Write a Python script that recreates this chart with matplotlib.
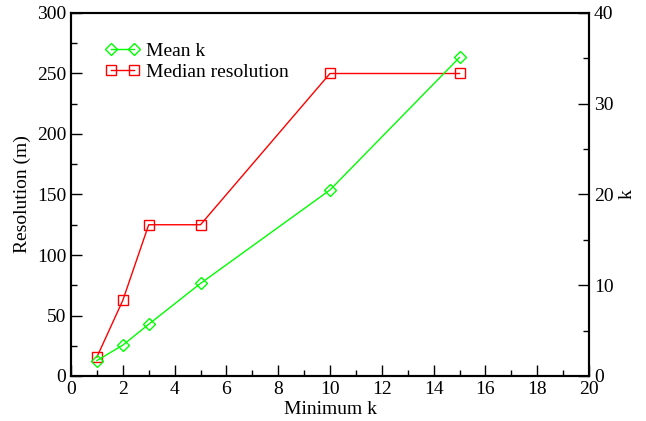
import numpy as np
import matplotlib.pyplot as plt
from matplotlib.ticker import MultipleLocator
from matplotlib.lines import Line2D

plt.rcParams['font.family'] = ['Liberation Serif', 'DejaVu Serif']

min_k = [1, 2, 3, 5, 10, 15]
mean_k = [1.7, 3.4, 5.7, 10.2, 20.5, 35.1]
median_res = [15.625, 62.5, 125, 125, 250, 250]

fig = plt.figure(figsize=(6.46, 4.21), dpi=100)
ax = fig.add_axes([71 / 646, 1 - 376 / 421, 518 / 646, 363 / 421])
ax2 = ax.twinx()

ax.plot(min_k, median_res, color='#ff0000', lw=1.0, marker='s', ms=7,
        mfc='none', mec='#ff0000', mew=1.0)
ax2.plot(min_k, mean_k, color='#00ff00', lw=1.0, marker='D', ms=6,
         mfc='none', mec='#00ff00', mew=1.0)

ax.set_xlim(0, 20)
ax.set_ylim(0, 300)
ax2.set_ylim(0, 40)
ax.xaxis.set_major_locator(MultipleLocator(2))
ax.xaxis.set_minor_locator(MultipleLocator(1))
ax.yaxis.set_major_locator(MultipleLocator(50))
ax.yaxis.set_minor_locator(MultipleLocator(25))
ax2.yaxis.set_major_locator(MultipleLocator(10))
ax2.yaxis.set_minor_locator(MultipleLocator(5))

for a in (ax, ax2):
    for s in a.spines.values():
        s.set_linewidth(1.5)
ax.tick_params(axis='both', which='both', direction='in', labelsize=14,
               top=False, right=False)
ax.tick_params(which='major', length=8, width=1)
ax.tick_params(which='minor', length=4, width=1)
ax2.tick_params(axis='y', which='both', direction='in', labelsize=14)
ax2.tick_params(which='major', length=8, width=1)
ax2.tick_params(which='minor', length=4, width=1)

ax.set_xlabel('Minimum k', fontsize=14, labelpad=2)
ax.set_ylabel('Resolution (m)', fontsize=14)
ax2.set_ylabel('k', fontsize=14)

handles = [
    Line2D([], [], color='#00ff00', lw=1.0, marker='D', ms=6, mfc='none', mew=1.0),
    Line2D([], [], color='#ff0000', lw=1.0, marker='s', ms=7, mfc='none', mew=1.0),
]
ax2.legend(handles, ['Mean k', 'Median resolution'], loc='upper left',
           bbox_to_anchor=(0.05, 0.94), frameon=False, fontsize=14,
           numpoints=2, handlelength=1.8, handletextpad=0.3, labelspacing=0.15,
           borderaxespad=0)

fig.savefig('out.png', dpi=100)
